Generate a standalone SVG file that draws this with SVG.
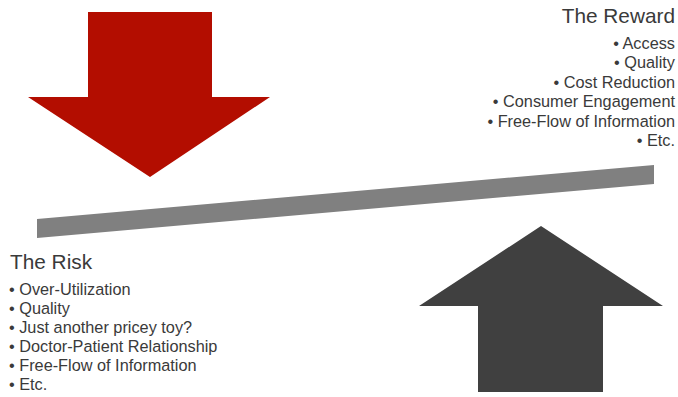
<svg xmlns="http://www.w3.org/2000/svg" width="678" height="397" viewBox="0 0 678 397">
<style>
.t{font-family:"Liberation Sans",Arial,sans-serif;fill:#3a3a3a}
.h{font-size:20.8px}
.b{font-size:16.3px}
.r{text-anchor:end}
</style>
<rect width="678" height="397" fill="#ffffff"/>
<g id="risk-arrow"><polygon points="88,12 212,12 212,97 270,97 150,177 28,97 88,97" fill="#b30d00"/></g>
<g id="reward-arrow"><polygon points="541,226 663,306 603,306 603,392 478,392 478,306 419,306" fill="#404040"/></g>
<g id="beam"><polygon points="37,219 654,165 654,184 37,238" fill="#808080"/></g>
<g id="reward-text" class="t r">
<text class="h" x="675" y="23">The Reward</text>
<text class="b" x="675" y="49">• Access</text>
<text class="b" x="675" y="68">• Quality</text>
<text class="b" x="675" y="88">• Cost Reduction</text>
<text class="b" x="675" y="107">• Consumer Engagement</text>
<text class="b" x="675" y="127">• Free-Flow of Information</text>
<text class="b" x="675" y="146">• Etc.</text>
</g>
<g id="risk-text" class="t">
<text class="h" x="10" y="269">The Risk</text>
<text class="b" x="9" y="295">• Over-Utilization</text>
<text class="b" x="9" y="314">• Quality</text>
<text class="b" x="9" y="333">• Just another pricey toy?</text>
<text class="b" x="9" y="352">• Doctor-Patient Relationship</text>
<text class="b" x="9" y="371">• Free-Flow of Information</text>
<text class="b" x="9" y="390">• Etc.</text>
</g>
</svg>
